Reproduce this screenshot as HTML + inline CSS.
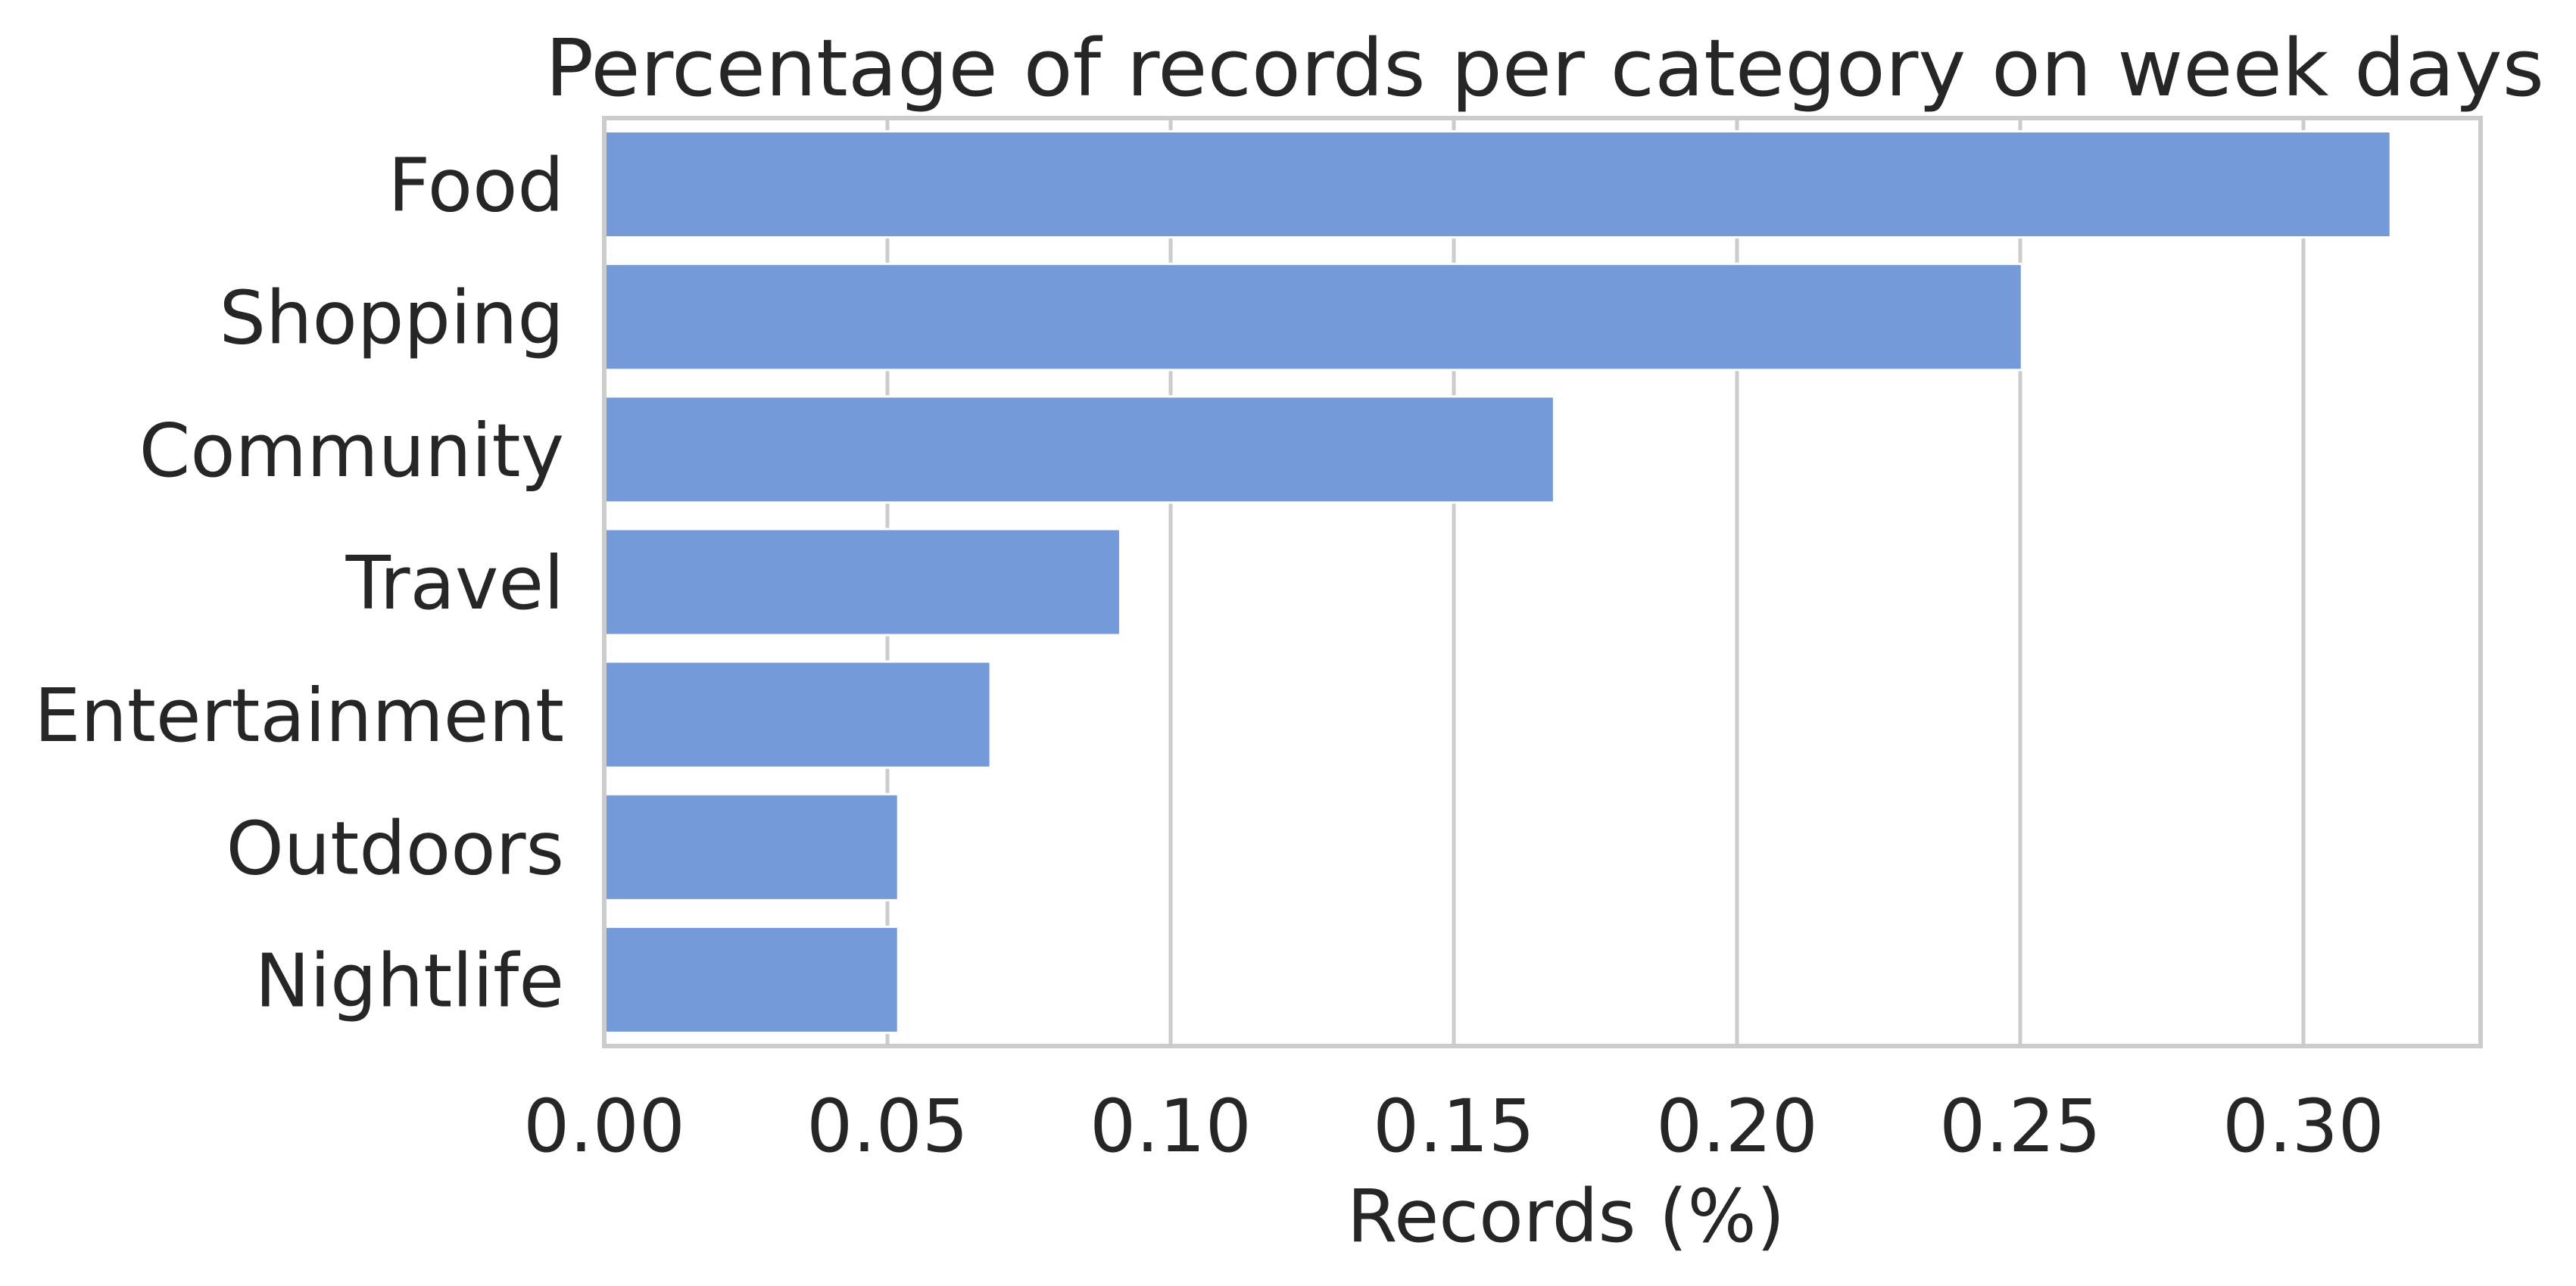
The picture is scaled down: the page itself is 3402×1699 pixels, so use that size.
<!DOCTYPE html>
<html><head><meta charset="utf-8"><style>
html,body{margin:0;padding:0;background:#fff;}
svg{display:block;font-family:"DejaVu Sans","Liberation Sans",sans-serif;}
</style></head><body>
<svg id="chart" width="3402" height="1699" viewBox="0 0 3402 1699">
<text x="2040" y="126" font-size="104" fill="#262626" text-anchor="middle" textLength="2640" lengthAdjust="spacingAndGlyphs">Percentage of records per category on week days</text>
<g id="grid"></g>
<g id="bars"></g>
<rect x="798" y="156" width="2478" height="1226" fill="none" stroke="#cccccc" stroke-width="6"/>
<g id="yticks"></g>
<g id="xticks"></g>
<text x="2068" y="1640" font-size="96" fill="#262626" text-anchor="middle">Records (%)</text>
</svg>
<script>
const categories = ["Food","Shopping","Community","Travel","Entertainment","Outdoors","Nightlife"];
const values = [0.3154,0.2503,0.1677,0.0911,0.0682,0.0519,0.0519];
const xTicks = [0,0.05,0.10,0.15,0.20,0.25,0.30];
const xTickLabels = ["0.00","0.05","0.10","0.15","0.20","0.25","0.30"];

const L=798,R=3276,T=156,B=1382;
const xMax=(R-L)/7480;
function xs(v){return L+v/xMax*(R-L);}
const band=(B-T)/categories.length;
function yc(i){return T+band*(i+0.5);}
const NS="http://www.w3.org/2000/svg";
function mk(tag,attrs,parent){const e=document.createElementNS(NS,tag);for(const k in attrs)e.setAttribute(k,attrs[k]);parent.appendChild(e);return e;}
const grid=document.getElementById('grid'),bars=document.getElementById('bars'),yt=document.getElementById('yticks'),xt=document.getElementById('xticks');
xTicks.forEach((t,i)=>{
  const g=mk('line',{x1:xs(t),x2:xs(t),y1:T,y2:B,stroke:'#cccccc','stroke-width':5},grid);
  
  
  const lb=mk('text',{x:xs(t),y:1521,'font-size':96,fill:'#262626','text-anchor':'middle'},xt);
  lb.textContent=xTickLabels[i];
  
  
});
categories.forEach((c,i)=>{
  const h=band*0.8;
  const r=mk('rect',{x:xs(0),y:yc(i)-h/2,width:xs(values[i])-xs(0),height:h,fill:'#759ada',stroke:'#ffffff','stroke-width':3},bars);
  
  
  const lb=mk('text',{x:745,y:yc(i)+35,'font-size':97,fill:'#262626','text-anchor':'end'},yt);
  lb.textContent=c;
  
  
});
</script>
</body></html>
